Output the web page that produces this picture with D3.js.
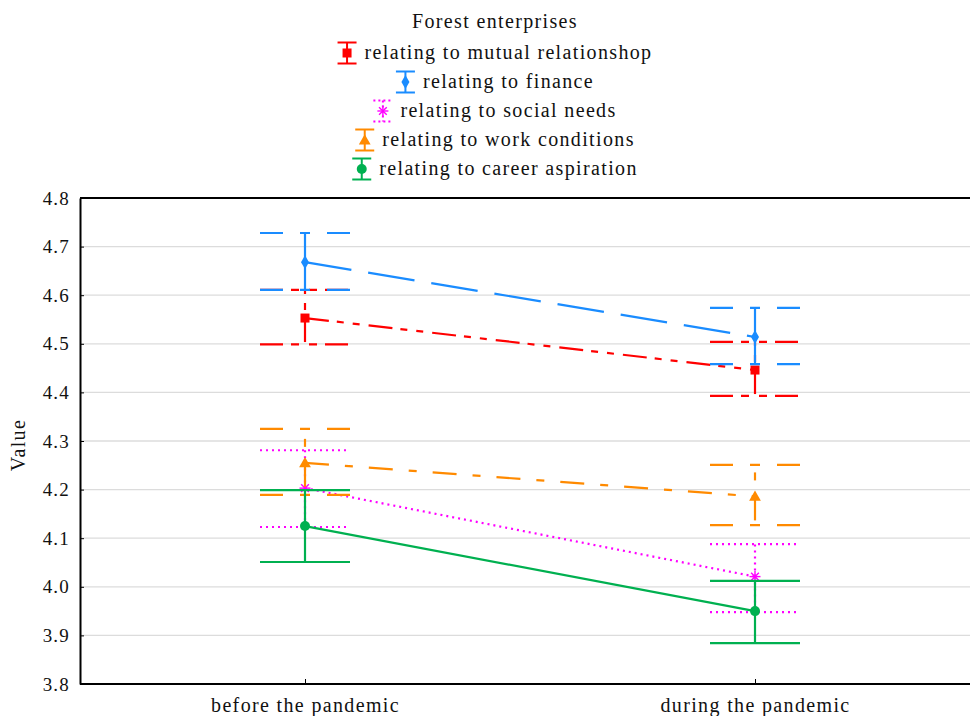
<!DOCTYPE html>
<html>
<head>
<meta charset="utf-8">
<script src="https://cdn.jsdelivr.net/npm/d3@7/dist/d3.min.js"></script>
<style>
  html, body { margin: 0; padding: 0; background: #fff; }
  svg { display: block; font-family: "Liberation Serif", "Times New Roman", serif; }
</style>
</head>
<body>
<svg id="chart" width="970" height="716"></svg>
<script>
// Periods on the x axis
const periods = ["before the pandemic", "during the pandemic"];

// Series labels (legend order)
const seriesNames = [
  "relating to mutual relationshop",
  "relating to finance",
  "relating to social needs",
  "relating to work conditions",
  "relating to career aspiration"
];

// Means per period
const mutualMean  = [4.553, 4.446];
const financeMean = [4.668, 4.514];
const socialMean  = [4.203, 4.021];
const workMean    = [4.255, 4.186];
const careerMean  = [4.125, 3.950];

// Lower confidence limits
const mutualLow  = [4.499, 4.393];
const financeLow = [4.611, 4.458];
const socialLow  = [4.123, 3.948];
const workLow    = [4.189, 4.127];
const careerLow  = [4.051, 3.884];

// Upper confidence limits
const mutualHigh  = [4.611, 4.504];
const financeHigh = [4.728, 4.574];
const socialHigh  = [4.281, 4.088];
const workHigh    = [4.325, 4.251];
const careerHigh  = [4.199, 4.012];

// Y axis tick values
const yTicks = [3.8, 3.9, 4.0, 4.1, 4.2, 4.3, 4.4, 4.5, 4.6, 4.7, 4.8];

const means = [mutualMean, financeMean, socialMean, workMean, careerMean];
const lows  = [mutualLow, financeLow, socialLow, workLow, careerLow];
const highs = [mutualHigh, financeHigh, socialHigh, workHigh, careerHigh];

// Visual style per series
const styles = [
  { color: "#ff0000", dash: "24,8,7,9,7,9", cap: "23,8,8,10,8,8", shape: "square" },
  { color: "#1a8cff", dash: "47,17",        cap: "23,17,10,17",   shape: "diamond" },
  { color: "#ff00ff", dash: "2,4",          cap: "2,4",           shape: "asterisk" },
  { color: "#ff8a00", dash: "24,16,8,16",   cap: "23,17,10,17",   shape: "triangle" },
  { color: "#00b050", dash: null,           cap: null,            shape: "circle" }
];

const series = seriesNames.map((name, i) => ({
  name, style: styles[i],
  points: periods.map((p, j) => ({ period: p, mean: means[i][j], low: lows[i][j], high: highs[i][j] }))
}));

const svg = d3.select("#chart");
const plotLeft = 80, plotRight = 970, plotTop = 198, plotBottom = 684;

const x = d3.scalePoint().domain(periods).range([305, 755]);
const y = d3.scaleLinear().domain([3.8, 4.8]).range([plotBottom, plotTop]);

const textStyle = sel => sel.attr("font-size", 20).attr("letter-spacing", "1.35px").attr("fill", "#111");

// Grid lines
svg.append("g").selectAll("line").data(yTicks.slice(1, -1)).join("line")
  .attr("x1", plotLeft).attr("x2", plotRight)
  .attr("y1", d => y(d)).attr("y2", d => y(d))
  .attr("stroke", "#dcdcdc").attr("stroke-width", 1.3);

// Y axis
const yAxis = d3.axisLeft(y).tickValues(yTicks).tickFormat(d3.format(".1f")).tickSizeInner(-4).tickSizeOuter(0).tickPadding(10);
const gy = svg.append("g").attr("transform", `translate(${plotLeft},0)`).call(yAxis);
gy.select(".domain").attr("stroke", "#000").attr("stroke-width", 2);
gy.selectAll(".tick line").attr("stroke", "#000");
gy.selectAll(".tick text").attr("font-size", 19).attr("letter-spacing", "1.2px").attr("fill", "#111")
  .attr("font-family", "Liberation Serif, serif");

// X axis
const xAxis = d3.axisBottom(x).tickSizeInner(-5).tickSizeOuter(0).tickPadding(14);
const gx = svg.append("g").attr("transform", `translate(0,${plotBottom})`).call(xAxis);
gx.select(".domain").remove();
gx.selectAll(".tick line").attr("stroke", "#000");
gx.selectAll(".tick text").attr("font-size", 20).attr("letter-spacing", "1.35px").attr("fill", "#111")
  .attr("font-family", "Liberation Serif, serif");
svg.append("line").attr("x1", plotLeft).attr("x2", plotRight).attr("y1", plotBottom).attr("y2", plotBottom)
  .attr("stroke", "#000").attr("stroke-width", 2);
svg.append("line").attr("x1", plotLeft).attr("x2", plotRight).attr("y1", plotTop).attr("y2", plotTop)
  .attr("stroke", "#000").attr("stroke-width", 2);

// Y axis title
svg.append("text").attr("transform", `translate(25,${(plotTop + plotBottom) / 2 + 4}) rotate(-90)`)
  .attr("text-anchor", "middle").call(textStyle).text("Value");

// Marker drawing
function drawMarker(g, shape, color, cx, cy, k) {
  if (shape === "square") {
    g.append("rect").attr("x", cx - 4.5 * k).attr("y", cy - 4.5 * k).attr("width", 9 * k).attr("height", 9 * k).attr("fill", color);
  } else if (shape === "diamond") {
    g.append("path").attr("d", d3.symbol(d3.symbolDiamond, 55 * k * k)()).attr("transform", `translate(${cx},${cy})`).attr("fill", color);
  } else if (shape === "triangle") {
    g.append("path").attr("d", d3.symbol(d3.symbolTriangle, 60 * k * k)()).attr("transform", `translate(${cx},${cy + 1})`).attr("fill", color);
  } else if (shape === "circle") {
    g.append("circle").attr("cx", cx).attr("cy", cy).attr("r", 5 * k).attr("fill", color);
  } else if (shape === "asterisk") {
    const r = 5.5 * k;
    [[0, -r, 0, r], [-r, 0, r, 0], [-r * 0.7, -r * 0.7, r * 0.7, r * 0.7], [-r * 0.7, r * 0.7, r * 0.7, -r * 0.7]].forEach(s => {
      g.append("line").attr("x1", cx + s[0]).attr("y1", cy + s[1]).attr("x2", cx + s[2]).attr("y2", cy + s[3])
        .attr("stroke", color).attr("stroke-width", 1.4);
    });
  }
}

// First length of a dash pattern (used to offset the upper whisker)
const firstDash = d => d ? +d.split(",")[0] : 0;

const capHalf = 45;

series.forEach(s => {
  const g = svg.append("g");
  const st = s.style;

  // Connecting line between means
  g.append("path")
    .datum(s.points)
    .attr("d", d3.line().x(d => x(d.period)).y(d => y(d.mean)))
    .attr("fill", "none").attr("stroke", st.color).attr("stroke-width", 2.2)
    .attr("stroke-dasharray", st.dash);

  s.points.forEach(p => {
    const cx = x(p.period);
    // Caps
    [p.low, p.high].forEach(v => {
      g.append("line").attr("x1", cx - capHalf).attr("x2", cx + capHalf)
        .attr("y1", y(v)).attr("y2", y(v))
        .attr("stroke", st.color).attr("stroke-width", 2.2)
        .attr("stroke-dasharray", st.cap);
    });
    // Whisker below mean
    g.append("line").attr("x1", cx).attr("x2", cx).attr("y1", y(p.mean)).attr("y2", y(p.low))
      .attr("stroke", st.color).attr("stroke-width", 2.2).attr("stroke-dasharray", st.dash);
    // Whisker above mean
    g.append("line").attr("x1", cx).attr("x2", cx).attr("y1", y(p.mean)).attr("y2", y(p.high))
      .attr("stroke", st.color).attr("stroke-width", 2.2).attr("stroke-dasharray", st.dash)
      .attr("stroke-dashoffset", st.dash && st.dash !== "2,4" && st.dash !== "47,17" ? firstDash(st.dash) : 0);
    drawMarker(g, st.shape, st.color, cx, y(p.mean), 1);
  });
});

// Legend
const legendCx = 495;
svg.append("text").attr("x", legendCx).attr("y", 28).attr("text-anchor", "middle").call(textStyle).text("Forest enterprises");

const rowY = [53, 82, 111, 140, 169];
series.forEach((s, i) => {
  const g = svg.append("g");
  const t = g.append("text").attr("y", rowY[i] + 6).call(textStyle).text(s.name);
  const tw = t.node().getComputedTextLength();
  const symW = 19, gap = 8;
  const x0 = legendCx - (symW + gap + tw) / 2;
  t.attr("x", x0 + symW + gap);
  const cx = x0 + symW / 2, cy = rowY[i];
  const st = s.style;
  const dash = st.shape === "asterisk" ? "2,3" : null;
  [cy - 10.5, cy + 10.5].forEach(yy => {
    g.append("line").attr("x1", x0).attr("x2", x0 + symW).attr("y1", yy).attr("y2", yy)
      .attr("stroke", st.color).attr("stroke-width", 2).attr("stroke-dasharray", dash);
  });
  g.append("line").attr("x1", cx).attr("x2", cx).attr("y1", cy - 10.5).attr("y2", cy + 10.5)
    .attr("stroke", st.color).attr("stroke-width", 2).attr("stroke-dasharray", dash);
  drawMarker(g, st.shape, st.color, cx, cy, 1);
});
</script>
</body>
</html>
